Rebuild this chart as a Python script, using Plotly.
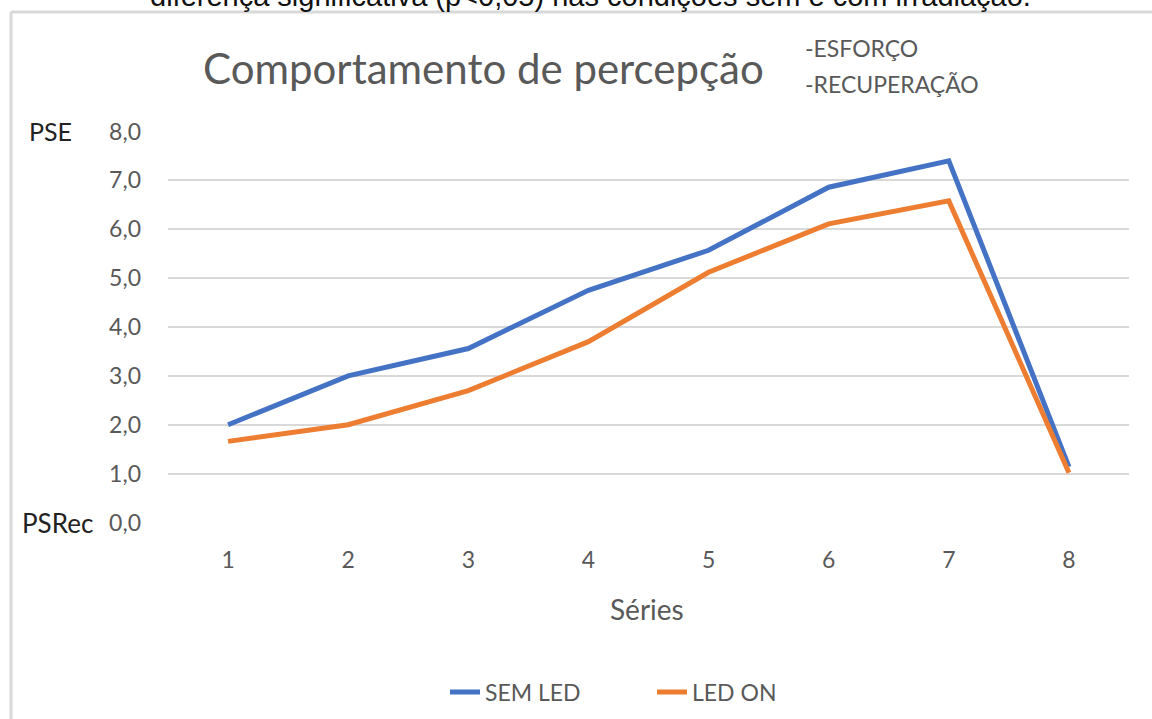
import plotly.graph_objects as go

series_labels = ["1", "2", "3", "4", "5", "6", "7", "8"]
sem_led = [2.0, 3.0, 3.56, 4.75, 5.57, 6.86, 7.40, 1.14]
led_on = [1.66, 2.0, 2.70, 3.70, 5.12, 6.11, 6.58, 1.02]
y_tick_vals = [0, 1, 2, 3, 4, 5, 6, 7, 8]
y_tick_text = ["0,0", "1,0", "2,0", "3,0", "4,0", "5,0", "6,0", "7,0", "8,0"]

W, H = 1152, 719
L, R, T, B = 168, 23, 131, 196
PW, PH = W - L - R, H - T - B

def px(x):
    return (x - L) / PW

def py(y):
    return (H - B - y) / PH

FONT = "Lato, sans-serif"
GRAY = "#595959"

fig = go.Figure()
fig.add_trace(go.Scatter(x=series_labels, y=sem_led, mode="lines", name="SEM LED",
                         line=dict(color="#4472C4", width=5)))
fig.add_trace(go.Scatter(x=series_labels, y=led_on, mode="lines", name="LED ON",
                         line=dict(color="#ED7D31", width=5)))

fig.update_layout(
    width=W, height=H,
    margin=dict(l=L, r=R, t=T, b=B, autoexpand=False),
    paper_bgcolor="white", plot_bgcolor="white",
    font=dict(family=FONT, color=GRAY, size=22),
    showlegend=True,
    legend=dict(orientation="h", x=px(445), xanchor="left", y=py(692), yanchor="middle",
                font=dict(size=23, color=GRAY), traceorder="normal",
                entrywidth=162, entrywidthmode="pixels"),
)
fig.update_xaxes(type="category", range=[-0.5, 7.5], showgrid=False, showline=False, ticks="",
                 tickfont=dict(size=23, color=GRAY), ticklabelstandoff=21, zeroline=False)
fig.update_yaxes(range=[-0.01, 8.01], tickvals=y_tick_vals, ticktext=y_tick_text,
                 showgrid=True, gridcolor="#D9D9D9", gridwidth=1.5, zeroline=False,
                 showline=False, ticks="", tickfont=dict(size=23, color=GRAY),
                 ticklabelstandoff=26)

annots = [
    dict(text="Comportamento de percepção", x=px(483), y=py(68), font=dict(size=42, color=GRAY)),
    dict(text="-ESFORÇO", x=px(803), y=py(48), xanchor="left", font=dict(size=23, color=GRAY)),
    dict(text="-RECUPERAÇÃO", x=px(803), y=py(84), xanchor="left", font=dict(size=23, color=GRAY)),
    dict(text="PSE", x=px(50), y=py(131), font=dict(size=25, color="#222222")),
    dict(text="PSRec", x=px(57), y=py(523), font=dict(size=26, color="#222222")),
    dict(text="Séries", x=px(647), y=py(609), font=dict(size=28, color=GRAY)),
    dict(text="diferença significativa (p<0,05) nas condições sem e com irradiação.",
         x=px(590), y=py(-4), font=dict(size=29, color="#111111", family="Liberation Sans, Arial")),
]
for a in annots:
    a.setdefault("xanchor", "center")
    fig.add_annotation(xref="paper", yref="paper", showarrow=False, yanchor="middle", **a)

fig.add_shape(type="line", xref="paper", yref="paper", x0=px(11), x1=px(11), y0=py(12), y1=py(740),
              line=dict(color="#D9D9D9", width=3))
fig.add_shape(type="line", xref="paper", yref="paper", x0=px(11), x1=px(1160), y0=py(12), y1=py(12),
              line=dict(color="#D9D9D9", width=3))

fig.write_html("out.html", config={"displayModeBar": False},
               post_script="document.body.style.margin='0';document.body.style.overflow='hidden';")
